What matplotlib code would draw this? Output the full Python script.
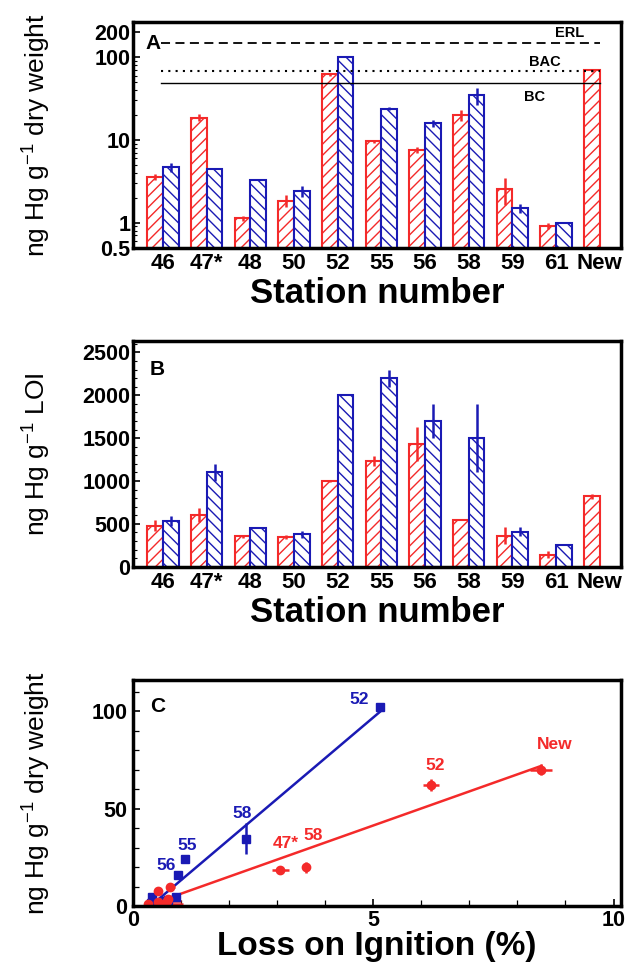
import matplotlib
matplotlib.use("Agg")
import matplotlib.pyplot as plt
import numpy as np
from matplotlib.ticker import FixedLocator, NullFormatter, MultipleLocator

# Data
stations = ["46", "47*", "48", "50", "52", "55", "56", "58", "59", "61", "New"]

# A: ng Hg/g dry weight (red = new survey, blue = earlier survey)
dw_red = [3.55, 18.6, 1.13, 1.84, 62, 9.6, 7.6, 19.8, 2.52, 0.91, 70]
dw_red_err = [0.3, 1.8, 0.08, 0.3, 3, 0.4, 0.7, 3, 0.9, 0.08, 3]
dw_blue = [4.7, 4.4, 3.24, 2.41, 102, 23.9, 16.0, 34.5, 1.5, 1.0, np.nan]
dw_blue_err = [0.6, 0, 0, 0.35, 0, 0.8, 1.5, 8, 0.2, 0, 0]

# guideline values
erl, bac, bc = 150, 68, 49

# B: ng Hg/g LOI
loi_red = [480, 605, 355, 350, 1000, 1230, 1430, 550, 360, 140, 820]
loi_red_err = [60, 80, 15, 25, 15, 60, 200, 0, 100, 40, 30]
loi_blue = [530, 1100, 450, 380, 2000, 2200, 1700, 1500, 410, 255, np.nan]
loi_blue_err = [60, 100, 0, 40, 0, 100, 200, 400, 50, 0, 0]

# C: loss on ignition (%)
pct_red = [0.74, 3.07, 0.32, 0.53, 6.2, 0.78, 0.53, 3.6, 0.70, 0.65, 8.5]
pct_red_xerr = [0.1, 0.17, 0.05, 0.1, 0.17, 0.1, 0.05, 0.05, 0.3, 0.4, 0.23]
pct_blue = [0.89, 0.40, 0.72, 0.63, 5.15, 1.09, 0.94, 2.35, 0.37, 0.39]

RED = "#f42a2a"
BLUE = "#1a1ab4"

plt.rcParams["font.family"] = "Liberation Sans"
plt.rcParams["mathtext.fontset"] = "custom"
plt.rcParams["mathtext.rm"] = "Liberation Sans"
plt.rcParams["hatch.linewidth"] = 1.0

fig = plt.figure(figsize=(6.27, 9.67), dpi=100)
axA = fig.add_axes([0.212, 0.744, 0.778, 0.233])
axB = fig.add_axes([0.212, 0.414, 0.778, 0.233])
axC = fig.add_axes([0.212, 0.063, 0.778, 0.234])

x = np.arange(len(stations))
w = 0.36
TICK = 15.5


def bars(ax, red, red_err, blue, blue_err):
    ax.bar(x - w / 2, red, w, color="white", edgecolor=RED, hatch="///", linewidth=1.5)
    ax.bar(x + w / 2, blue, w, color="white", edgecolor=BLUE, hatch="\\\\\\", linewidth=1.5)
    ax.errorbar(x - w / 2, red, yerr=red_err, fmt="none", ecolor=RED, elinewidth=1.8, capsize=0)
    ax.errorbar(x + w / 2, blue, yerr=blue_err, fmt="none", ecolor=BLUE, elinewidth=1.8, capsize=0)
    ax.set_xticks(x)
    ax.set_xticklabels(stations, fontsize=16, fontweight="bold")
    ax.set_xlim(-0.69, 10.48)
    ax.tick_params(axis="x", length=0, pad=4)
    ax.tick_params(axis="y", direction="in", width=1.2, length=5, pad=2)
    ax.set_xlabel("Station number", fontsize=25, fontweight="bold", labelpad=2)
    for s in ax.spines.values():
        s.set_linewidth(2.5)


# --- A
bars(axA, dw_red, dw_red_err, dw_blue, dw_blue_err)
axA.set_yscale("log")
axA.set_ylim(0.5, 265)
axA.yaxis.set_major_locator(FixedLocator([0.5, 1, 10, 100, 200]))
axA.set_yticklabels(["0.5", "1", "10", "100", "200"], fontsize=TICK, fontweight="bold")
axA.yaxis.set_minor_formatter(NullFormatter())
axA.tick_params(axis="y", which="minor", direction="in", length=3, width=0.8)
axA.set_ylabel(r"ng Hg g$^{-1}$ dry weight", fontsize=19)
axA.yaxis.set_label_coords(-0.166, 0.5)
axA.plot([-0.05, 10.0], [erl, erl], color="black", ls=(0, (5, 3)), lw=1.3)
axA.plot([-0.05, 10.0], [bac, bac], color="black", ls=(0, (1, 2.5)), lw=1.5)
axA.plot([-0.05, 10.0], [bc, bc], color="black", ls="-", lw=1.0)
axA.text(9.3, 195, "ERL", fontsize=10.5, fontweight="bold", ha="center", va="center")
axA.text(8.75, 87, "BAC", fontsize=10.5, fontweight="bold", ha="center", va="center")
axA.text(8.5, 33, "BC", fontsize=10.5, fontweight="bold", ha="center", va="center")
axA.text(0.025, 0.905, "A", transform=axA.transAxes, fontsize=15, fontweight="bold", va="center")

# --- B
bars(axB, loi_red, loi_red_err, loi_blue, loi_blue_err)
axB.set_ylim(0, 2630)
axB.set_yticks([0, 500, 1000, 1500, 2000, 2500])
axB.set_yticklabels(["0", "500", "1000", "1500", "2000", "2500"], fontsize=TICK, fontweight="bold")
axB.yaxis.set_minor_locator(MultipleLocator(100))
axB.tick_params(axis="y", which="minor", direction="in", length=3, width=0.8)
axB.set_ylabel(r"ng Hg g$^{-1}$ LOI", fontsize=19)
axB.yaxis.set_label_coords(-0.166, 0.5)
axB.text(0.035, 0.876, "B", transform=axB.transAxes, fontsize=15, fontweight="bold", va="center")

# --- C
dwb = np.array(dw_blue[:10])
pb = np.array(pct_blue)
dwr = np.array(dw_red)
pr = np.array(pct_red)

kb = np.polyfit(pb, dwb, 1)
kr = np.polyfit(pr, dwr, 1)
xb = np.array([pb.min(), pb.max()])
xr = np.array([pr.min(), pr.max()])
axC.plot(xb, np.polyval(kb, xb), color=BLUE, lw=1.8)
axC.plot(xr, np.polyval(kr, xr), color=RED, lw=1.8)

axC.errorbar(pb, dwb, yerr=dw_blue_err[:10], fmt="s", color=BLUE, ms=6, elinewidth=1.8, capsize=0)
axC.errorbar(pr, dwr, xerr=pct_red_xerr, yerr=dw_red_err, fmt="o", color=RED, ms=6,
             elinewidth=1.8, capsize=0)

blue_lab = {"52": (-0.45, 4), "58": (-0.07, 13), "55": (0.04, 7), "56": (-0.25, 5)}
red_lab = {"New": (0.27, 13), "52": (0.08, 10), "47*": (0.1, 13.5), "58": (0.15, 16.5)}
for name, (dx, dy) in blue_lab.items():
    i = stations.index(name)
    axC.text(pb[i] + dx, dwb[i] + dy, name, color=BLUE, fontsize=12.5, fontweight="bold",
             ha="center", va="center")
for name, (dx, dy) in red_lab.items():
    i = stations.index(name)
    axC.text(pr[i] + dx, dwr[i] + dy, name, color=RED, fontsize=12.5, fontweight="bold",
             ha="center", va="center")

axC.set_xlim(0, 10.15)
axC.set_ylim(0, 116)
axC.set_xticks([0, 5, 10])
axC.set_yticks([0, 50, 100])
axC.set_xticklabels(["0", "5", "10"], fontsize=TICK, fontweight="bold")
axC.set_yticklabels(["0", "50", "100"], fontsize=TICK, fontweight="bold")
axC.xaxis.set_minor_locator(MultipleLocator(1))
axC.yaxis.set_minor_locator(MultipleLocator(10))
axC.tick_params(which="major", direction="in", length=5, width=1.2, pad=4)
axC.tick_params(axis="x", which="major", pad=3)
axC.tick_params(which="minor", direction="in", length=4, width=0.9)
axC.set_xlabel("Loss on Ignition (%)", fontsize=24, fontweight="bold", labelpad=0)
axC.set_ylabel(r"ng Hg g$^{-1}$ dry weight", fontsize=19)
axC.yaxis.set_label_coords(-0.166, 0.5)
axC.text(0.035, 0.88, "C", transform=axC.transAxes, fontsize=15, fontweight="bold", va="center")
for s in axC.spines.values():
    s.set_linewidth(2.5)

fig.savefig("out.png", dpi=100)
